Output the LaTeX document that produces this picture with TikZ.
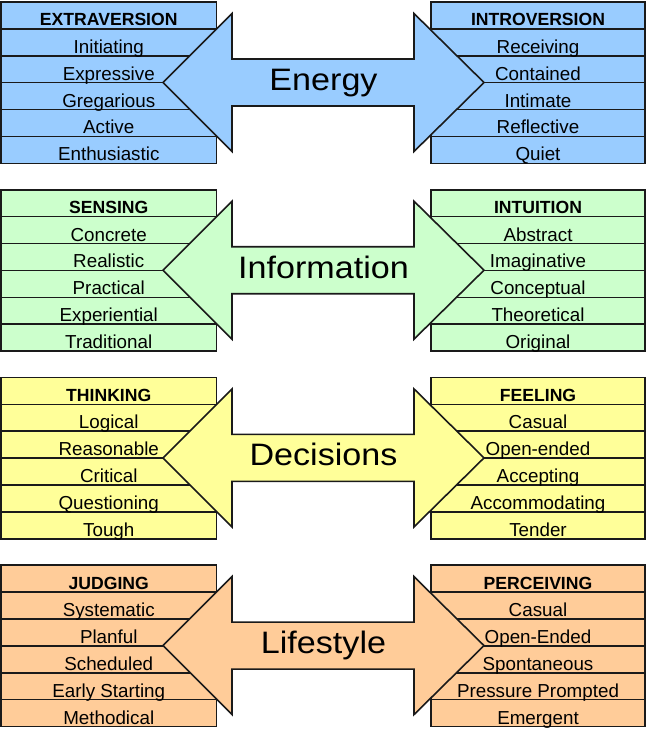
\documentclass[tikz,border=0pt]{standalone}
\usepackage{fontspec}
\setmainfont{Liberation Sans}
\usepackage{graphicx}
\definecolor{eblue}{HTML}{99CCFF}
\definecolor{igreen}{HTML}{CCFFCC}
\definecolor{dyellow}{HTML}{FFFF99}
\definecolor{lorange}{HTML}{FFCC99}
\definecolor{edge}{HTML}{1A1A1A}
\tikzset{
  rowline/.style={draw=edge, line width=1.6bp},
  itemtext/.style={anchor=base, inner sep=0pt, font=\fontsize{18.8bp}{20bp}\selectfont},
  headtext/.style={anchor=base, inner sep=0pt, font=\fontsize{17.6bp}{20bp}\selectfont\bfseries},
  bigtext/.style={anchor=base, inner sep=0pt, font=\fontsize{31bp}{33bp}\selectfont},
  arrowshape/.style={draw=edge, line width=1.6bp, line join=miter},
}
% #1 id, #2 top, #3 colour, #4 big label, #5 left head, #6 left items, #7 right head, #8 right items
\newcommand\mbgroup[8]{%
  \begin{scope}[shift={(0,#2)}]
    \draw[rowline, fill=#3] (1,0) rectangle (216.5,161.5);
    \draw[rowline, fill=#3] (431,0) rectangle (645,161.5);
    \foreach \k in {1,...,5}{
      \draw[rowline] (1,{\k*26.9}) -- (216.5,{\k*26.9});
      \draw[rowline] (431,{\k*26.9}) -- (645,{\k*26.9});
    }
    \node[headtext] (#1lh) at (108.75,23.9) {#5};
    \node[headtext] (#1rh) at (538,23.9) {#7};
    \foreach \t [count=\i] in {#6}
      \node[itemtext] (#1l\i) at (108.75,{(\i+1)*26.9-2.5}) {\t};
    \foreach \t [count=\i] in {#8}
      \node[itemtext] (#1r\i) at (538,{(\i+1)*26.9-2.5}) {\t};
    \draw[arrowshape, fill=#3] (163,80.5) -- (232,11.5) -- (232,57) -- (414,57)
      -- (414,11.5) -- (484,80.5) -- (414,149.5) -- (414,104) -- (232,104)
      -- (232,149.5) -- cycle;
    \node[bigtext] (#1big) at (323.5,88.5) {\scalebox{1.1}[1]{#4}};
  \end{scope}
}
\begin{document}
\begin{tikzpicture}[x=1bp, y=-1bp]
  \useasboundingbox[fill=white] (0,0) rectangle (647,731);
  \mbgroup{e}{2}{eblue}{Energy}{EXTRAVERSION}{Initiating,Expressive,Gregarious,Active,Enthusiastic}{INTROVERSION}{Receiving,Contained,Intimate,Reflective,Quiet}
  \mbgroup{i}{189.7}{igreen}{Information}{SENSING}{Concrete,Realistic,Practical,Experiential,Traditional}{INTUITION}{Abstract,Imaginative,Conceptual,Theoretical,Original}
  \mbgroup{d}{377.4}{dyellow}{Decisions}{THINKING}{Logical,Reasonable,Critical,Questioning,Tough}{FEELING}{Casual,Open-ended,Accepting,Accommodating,Tender}
  \mbgroup{l}{565.1}{lorange}{Lifestyle}{JUDGING}{Systematic,Planful,Scheduled,Early Starting,Methodical}{PERCEIVING}{Casual,Open-Ended,Spontaneous,Pressure Prompted,Emergent}
\end{tikzpicture}
\end{document}
